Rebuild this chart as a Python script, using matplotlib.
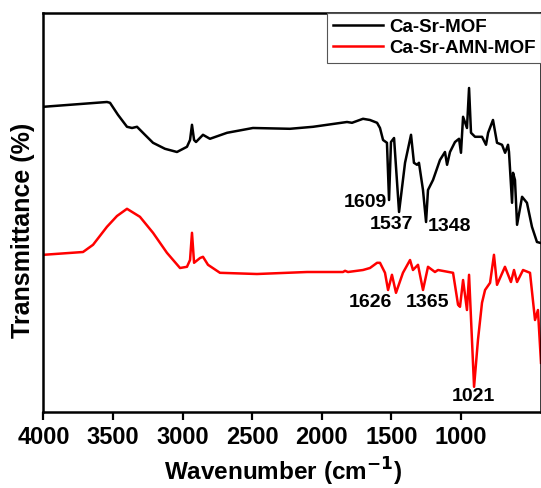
import numpy as np
import matplotlib
matplotlib.use("Agg")
from matplotlib import pyplot as plt

# Ca-Sr-MOF (black), wavenumber (cm-1) / transmittance (a.u.)
mof_wn = [4000, 3810, 3544, 3522, 3465, 3400, 3364, 3328, 3271, 3213, 3127, 3041, 2969,
          2947, 2933, 2918, 2904, 2854, 2804, 2681, 2495, 2229, 2063, 1819, 1783, 1704,
          1654, 1603, 1582, 1560, 1532, 1517, 1503, 1481, 1445, 1402, 1359, 1338, 1316,
          1302, 1273, 1251, 1237, 1201, 1151, 1115, 1100, 1079, 1043, 1014, 1000, 985,
          957, 942, 928, 899, 849, 820, 805, 770, 741, 705, 683, 662, 655, 633, 626, 612,
          597, 561, 526, 490, 454, 432]
mof_t = [76.3, 76.8, 77.5, 77.3, 74.3, 71.3, 71.0, 71.3, 69.3, 67.3, 65.8, 65.0, 66.3,
         68.0, 71.8, 68.0, 67.5, 69.3, 68.3, 69.8, 71.0, 70.8, 71.3, 72.5, 72.3, 73.3,
         73.0, 72.3, 71.0, 68.0, 67.3, 53.0, 67.5, 68.5, 50.0, 62.3, 69.3, 62.3, 61.8,
         62.3, 55.5, 47.5, 55.5, 58.0, 63.0, 65.0, 61.8, 65.0, 67.5, 68.3, 64.8, 73.8,
         71.0, 81.0, 69.8, 68.8, 68.8, 66.8, 69.8, 73.0, 67.3, 66.8, 64.8, 66.8, 65.0,
         52.3, 59.8, 58.0, 46.8, 53.8, 52.3, 46.3, 42.5, 42.3]

# Ca-Sr-AMN-MOF (red)
amn_wn = [4000, 3716, 3644, 3544, 3472, 3400, 3307, 3213, 3113, 3019, 2969, 2947, 2933,
          2918, 2875, 2854, 2818, 2732, 2466, 2106, 1848, 1833, 1812, 1704, 1654, 1603,
          1582, 1546, 1524, 1496, 1467, 1417, 1366, 1345, 1309, 1273, 1237, 1187, 1165,
          1057, 1021, 1007, 985, 957, 942, 906, 878, 849, 827, 791, 763, 741, 684, 641,
          619, 597, 554, 504, 468, 447, 425]
amn_t = [39.3, 40.0, 41.8, 46.3, 49.0, 50.8, 48.8, 44.8, 39.8, 36.0, 36.3, 38.0, 44.8,
         37.3, 38.5, 38.8, 36.8, 34.8, 34.5, 35.0, 35.0, 35.3, 35.0, 35.5, 36.0, 37.3,
         37.3, 34.8, 30.5, 34.3, 29.8, 34.8, 38.0, 35.5, 36.8, 30.5, 36.3, 35.0, 35.5,
         34.8, 26.8, 26.3, 33.0, 25.5, 34.3, 6.3, 18.0, 27.3, 30.5, 32.3, 39.3, 31.8,
         36.3, 32.5, 35.5, 32.5, 35.5, 34.8, 23.0, 25.5, 12.3]

# peak labels: text, wavenumber position, transmittance position
peak_labels = ["1609", "1537", "1348", "1626", "1365", "1021"]
peak_x = [1690, 1496, 1079, 1654, 1244, 914]
peak_y = [52.3, 46.8, 46.3, 27.5, 27.5, 3.8]

x_ticks = [4000, 3500, 3000, 2500, 2000, 1500, 1000]

plt.rcParams["font.family"] = ["Liberation Sans", "DejaVu Sans"]
plt.rcParams["font.weight"] = "bold"
plt.rcParams["mathtext.default"] = "bf"

fig = plt.figure(figsize=(5.41, 4.88), dpi=100)
ax = fig.add_axes([0.0804, 0.1557, 0.9196, 0.8177])

ax.plot(mof_wn, mof_t, color="black", linewidth=1.8, label="Ca-Sr-MOF")
ax.plot(amn_wn, amn_t, color="#ff0000", linewidth=1.8, label="Ca-Sr-AMN-MOF")

for text, x, y in zip(peak_labels, peak_x, peak_y):
    ax.text(x, y, text, ha="center", va="center", fontsize=14, fontweight="bold")

ax.set_xlim(4000, 425)
ax.set_ylim(0, 99.75)
ax.set_xticks(x_ticks)
ax.set_yticks([])
ax.tick_params(axis="x", direction="out", length=6, width=1.6, labelsize=17, pad=4)
for lab in ax.get_xticklabels():
    lab.set_fontweight("bold")
for side in ["left", "bottom", "top", "right"]:
    ax.spines[side].set_linewidth(1.8)

ax.set_xlabel("Wavenumber (cm$^{-1}$)", fontsize=17.5, fontweight="bold")
ax.xaxis.set_label_coords(0.481, -0.11)
ax.set_ylabel("Transmittance (%)", fontsize=18, fontweight="bold", va="center")
ax.yaxis.set_label_coords(-0.041, 0.456)

leg = ax.legend(loc="upper right", bbox_to_anchor=(1.0, 1.0), borderaxespad=0,
                fontsize=13.5, handlelength=2.7, frameon=True, fancybox=False,
                edgecolor="#555555", framealpha=1, borderpad=0.3, labelspacing=0.22,
                handletextpad=0.3)
leg.get_frame().set_linewidth(0.8)
for t in leg.get_texts():
    t.set_fontweight("bold")

fig.savefig("out.png", dpi=100)
